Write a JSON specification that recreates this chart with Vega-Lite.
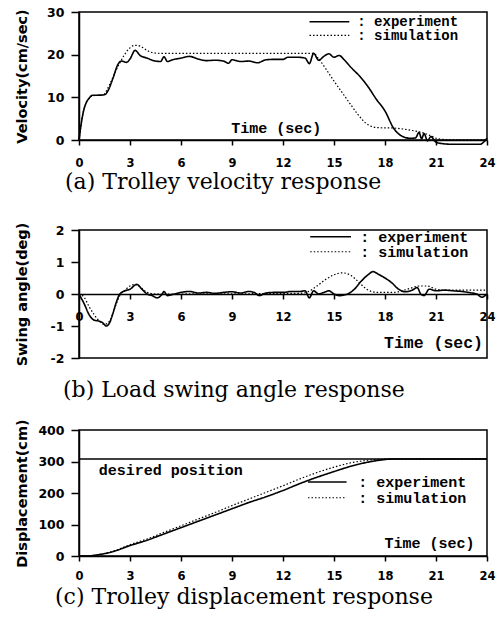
{
  "$schema": "https://vega.github.io/schema/vega-lite/v6.json",
  "background": "white",
  "padding": {"left": 13, "top": 5, "right": 5, "bottom": 5},
  "spacing": 16,
  "config": {
    "view": {"stroke": "black", "strokeWidth": 1.5},
    "axis": {
      "grid": false,
      "domainColor": "black",
      "domainWidth": 1.5,
      "tickColor": "black",
      "tickWidth": 1.5,
      "labelColor": "black",
      "labelFont": "DejaVu Sans",
      "labelFontWeight": "bold",
      "titleColor": "black",
      "titleFont": "DejaVu Sans",
      "titleFontWeight": "bold",
      "titleFontSize": 14.5,
      "labelFlush": false,
      "labelOverlap": false
    },
    "axisX": {"tickSize": 5, "labelPadding": 12, "labelFontSize": 11.5, "title": null},
    "axisY": {"tickSize": 8, "labelPadding": 7, "labelFontSize": 12.5, "titleAngle": -90, "titleBaseline": "middle", "titleAlign": "center", "titleX": -57},
    "title": {"font": "DejaVu Serif", "fontSize": 22, "fontWeight": "normal", "color": "black", "orient": "bottom", "anchor": "start", "frame": "group"}
  },
  "datasets": {
    "vel": [
      {"t": 0, "v": 0, "s": "experiment"}, {"t": 0.1, "v": 3, "s": "experiment"}, {"t": 0.25, "v": 6.5, "s": "experiment"}, {"t": 0.4, "v": 8.5, "s": "experiment"}, {"t": 0.6, "v": 9.8, "s": "experiment"}, {"t": 0.8, "v": 10.5, "s": "experiment"}, {"t": 1.0, "v": 10.5, "s": "experiment"}, {"t": 1.5, "v": 10.6, "s": "experiment"}, {"t": 1.7, "v": 11.5, "s": "experiment"}, {"t": 2.0, "v": 14.5, "s": "experiment"}, {"t": 2.3, "v": 17.8, "s": "experiment"}, {"t": 2.5, "v": 18.5, "s": "experiment"}, {"t": 2.8, "v": 18.2, "s": "experiment"}, {"t": 3.0, "v": 19, "s": "experiment"}, {"t": 3.3, "v": 21, "s": "experiment"}, {"t": 3.6, "v": 19.8, "s": "experiment"}, {"t": 4.0, "v": 19.2, "s": "experiment"}, {"t": 4.5, "v": 18.5, "s": "experiment"}, {"t": 4.8, "v": 18.4, "s": "experiment"}, {"t": 5.0, "v": 19.5, "s": "experiment"}, {"t": 5.2, "v": 18.4, "s": "experiment"}, {"t": 5.5, "v": 18.8, "s": "experiment"}, {"t": 6.0, "v": 19.2, "s": "experiment"}, {"t": 6.5, "v": 19.6, "s": "experiment"}, {"t": 7.0, "v": 19.0, "s": "experiment"}, {"t": 7.5, "v": 18.6, "s": "experiment"}, {"t": 8.0, "v": 18.7, "s": "experiment"}, {"t": 8.5, "v": 18.5, "s": "experiment"}, {"t": 8.8, "v": 18.0, "s": "experiment"}, {"t": 9.0, "v": 18.8, "s": "experiment"}, {"t": 9.5, "v": 18.4, "s": "experiment"}, {"t": 10.0, "v": 18.5, "s": "experiment"}, {"t": 10.5, "v": 18.1, "s": "experiment"}, {"t": 11.0, "v": 18.8, "s": "experiment"}, {"t": 11.5, "v": 18.9, "s": "experiment"}, {"t": 12.0, "v": 18.9, "s": "experiment"}, {"t": 12.3, "v": 19.4, "s": "experiment"}, {"t": 12.8, "v": 19.4, "s": "experiment"}, {"t": 13.3, "v": 19.2, "s": "experiment"}, {"t": 13.55, "v": 17.9, "s": "experiment"}, {"t": 13.8, "v": 20.3, "s": "experiment"}, {"t": 14.1, "v": 18.7, "s": "experiment"}, {"t": 14.4, "v": 19.6, "s": "experiment"}, {"t": 14.7, "v": 20.2, "s": "experiment"}, {"t": 15.0, "v": 19.4, "s": "experiment"}, {"t": 15.3, "v": 19.8, "s": "experiment"}, {"t": 15.6, "v": 18.8, "s": "experiment"}, {"t": 16.0, "v": 17.0, "s": "experiment"}, {"t": 16.5, "v": 15.0, "s": "experiment"}, {"t": 17.0, "v": 12.5, "s": "experiment"}, {"t": 17.5, "v": 9.5, "s": "experiment"}, {"t": 18.0, "v": 6.8, "s": "experiment"}, {"t": 18.5, "v": 2.8, "s": "experiment"}, {"t": 19.0, "v": 0.9, "s": "experiment"}, {"t": 19.5, "v": 0.4, "s": "experiment"}, {"t": 19.8, "v": 0.5, "s": "experiment"}, {"t": 20.0, "v": 1.8, "s": "experiment"}, {"t": 20.15, "v": 0.3, "s": "experiment"}, {"t": 20.3, "v": 1.5, "s": "experiment"}, {"t": 20.5, "v": -0.2, "s": "experiment"}, {"t": 20.7, "v": 0.8, "s": "experiment"}, {"t": 21.0, "v": -0.5, "s": "experiment"}, {"t": 21.5, "v": -0.9, "s": "experiment"}, {"t": 22.0, "v": -1.0, "s": "experiment"}, {"t": 23.0, "v": -1.0, "s": "experiment"}, {"t": 23.6, "v": -1.0, "s": "experiment"}, {"t": 23.8, "v": -0.5, "s": "experiment"}, {"t": 24.0, "v": 0.4, "s": "experiment"},
      {"t": 0, "v": 0, "s": "simulation"}, {"t": 0.1, "v": 3, "s": "simulation"}, {"t": 0.25, "v": 6.5, "s": "simulation"}, {"t": 0.4, "v": 8.5, "s": "simulation"}, {"t": 0.6, "v": 9.8, "s": "simulation"}, {"t": 0.8, "v": 10.4, "s": "simulation"}, {"t": 1.4, "v": 10.5, "s": "simulation"}, {"t": 1.8, "v": 13, "s": "simulation"}, {"t": 2.2, "v": 16.5, "s": "simulation"}, {"t": 2.6, "v": 19.5, "s": "simulation"}, {"t": 3.0, "v": 21.6, "s": "simulation"}, {"t": 3.3, "v": 22.2, "s": "simulation"}, {"t": 3.6, "v": 22.0, "s": "simulation"}, {"t": 4.0, "v": 21.0, "s": "simulation"}, {"t": 4.4, "v": 20.4, "s": "simulation"}, {"t": 5.0, "v": 20.3, "s": "simulation"}, {"t": 13.8, "v": 20.3, "s": "simulation"}, {"t": 14.1, "v": 19.0, "s": "simulation"}, {"t": 14.5, "v": 16.8, "s": "simulation"}, {"t": 15.0, "v": 13.8, "s": "simulation"}, {"t": 15.5, "v": 11.0, "s": "simulation"}, {"t": 16.0, "v": 8.2, "s": "simulation"}, {"t": 16.4, "v": 6.0, "s": "simulation"}, {"t": 16.8, "v": 4.2, "s": "simulation"}, {"t": 17.2, "v": 3.2, "s": "simulation"}, {"t": 17.6, "v": 2.9, "s": "simulation"}, {"t": 18.5, "v": 2.8, "s": "simulation"}, {"t": 19.5, "v": 2.3, "s": "simulation"}, {"t": 20.3, "v": 1.6, "s": "simulation"}, {"t": 20.8, "v": 0.8, "s": "simulation"}, {"t": 21.1, "v": 0.3, "s": "simulation"}, {"t": 22.0, "v": 0.05, "s": "simulation"}, {"t": 24.0, "v": 0.05, "s": "simulation"}
    ],
    "ang": [
      {"t": 0, "v": 0, "s": "experiment"}, {"t": 0.3, "v": -0.3, "s": "experiment"}, {"t": 0.6, "v": -0.65, "s": "experiment"}, {"t": 0.9, "v": -0.82, "s": "experiment"}, {"t": 1.2, "v": -0.85, "s": "experiment"}, {"t": 1.4, "v": -0.9, "s": "experiment"}, {"t": 1.6, "v": -1.0, "s": "experiment"}, {"t": 1.8, "v": -0.9, "s": "experiment"}, {"t": 2.0, "v": -0.6, "s": "experiment"}, {"t": 2.2, "v": -0.25, "s": "experiment"}, {"t": 2.4, "v": 0.0, "s": "experiment"}, {"t": 2.7, "v": 0.1, "s": "experiment"}, {"t": 3.0, "v": 0.15, "s": "experiment"}, {"t": 3.4, "v": 0.3, "s": "experiment"}, {"t": 3.7, "v": 0.15, "s": "experiment"}, {"t": 4.0, "v": 0.0, "s": "experiment"}, {"t": 4.3, "v": -0.05, "s": "experiment"}, {"t": 4.6, "v": -0.12, "s": "experiment"}, {"t": 4.9, "v": 0.0, "s": "experiment"}, {"t": 5.0, "v": 0.08, "s": "experiment"}, {"t": 5.2, "v": -0.05, "s": "experiment"}, {"t": 5.6, "v": 0.0, "s": "experiment"}, {"t": 6.0, "v": 0.05, "s": "experiment"}, {"t": 6.5, "v": 0.08, "s": "experiment"}, {"t": 7.0, "v": 0.03, "s": "experiment"}, {"t": 7.5, "v": 0.05, "s": "experiment"}, {"t": 8.0, "v": 0.02, "s": "experiment"}, {"t": 8.5, "v": 0.05, "s": "experiment"}, {"t": 9.0, "v": 0.07, "s": "experiment"}, {"t": 9.5, "v": 0.03, "s": "experiment"}, {"t": 10.0, "v": 0.08, "s": "experiment"}, {"t": 10.3, "v": 0.05, "s": "experiment"}, {"t": 10.6, "v": -0.05, "s": "experiment"}, {"t": 11.0, "v": 0.03, "s": "experiment"}, {"t": 11.5, "v": 0.05, "s": "experiment"}, {"t": 12.0, "v": 0.05, "s": "experiment"}, {"t": 12.5, "v": 0.08, "s": "experiment"}, {"t": 13.0, "v": 0.08, "s": "experiment"}, {"t": 13.3, "v": 0.1, "s": "experiment"}, {"t": 13.55, "v": -0.12, "s": "experiment"}, {"t": 13.8, "v": 0.1, "s": "experiment"}, {"t": 14.1, "v": 0.0, "s": "experiment"}, {"t": 14.4, "v": 0.05, "s": "experiment"}, {"t": 14.7, "v": 0.1, "s": "experiment"}, {"t": 15.0, "v": 0.0, "s": "experiment"}, {"t": 15.3, "v": -0.05, "s": "experiment"}, {"t": 15.8, "v": 0.0, "s": "experiment"}, {"t": 16.2, "v": 0.15, "s": "experiment"}, {"t": 16.6, "v": 0.4, "s": "experiment"}, {"t": 17.0, "v": 0.6, "s": "experiment"}, {"t": 17.3, "v": 0.7, "s": "experiment"}, {"t": 17.6, "v": 0.62, "s": "experiment"}, {"t": 18.0, "v": 0.5, "s": "experiment"}, {"t": 18.4, "v": 0.35, "s": "experiment"}, {"t": 18.8, "v": 0.15, "s": "experiment"}, {"t": 19.2, "v": 0.07, "s": "experiment"}, {"t": 19.6, "v": 0.12, "s": "experiment"}, {"t": 19.9, "v": 0.2, "s": "experiment"}, {"t": 20.1, "v": 0.0, "s": "experiment"}, {"t": 20.3, "v": -0.05, "s": "experiment"}, {"t": 20.6, "v": 0.15, "s": "experiment"}, {"t": 21.0, "v": 0.1, "s": "experiment"}, {"t": 21.5, "v": 0.12, "s": "experiment"}, {"t": 22.0, "v": 0.1, "s": "experiment"}, {"t": 22.5, "v": 0.08, "s": "experiment"}, {"t": 23.0, "v": 0.04, "s": "experiment"}, {"t": 23.4, "v": 0.0, "s": "experiment"}, {"t": 23.7, "v": -0.1, "s": "experiment"}, {"t": 24.0, "v": 0.0, "s": "experiment"},
      {"t": 0, "v": 0, "s": "simulation"}, {"t": 0.3, "v": -0.1, "s": "simulation"}, {"t": 0.6, "v": -0.4, "s": "simulation"}, {"t": 0.9, "v": -0.65, "s": "simulation"}, {"t": 1.2, "v": -0.85, "s": "simulation"}, {"t": 1.5, "v": -0.95, "s": "simulation"}, {"t": 1.8, "v": -0.85, "s": "simulation"}, {"t": 2.0, "v": -0.6, "s": "simulation"}, {"t": 2.2, "v": -0.3, "s": "simulation"}, {"t": 2.4, "v": -0.05, "s": "simulation"}, {"t": 2.7, "v": 0.12, "s": "simulation"}, {"t": 3.0, "v": 0.25, "s": "simulation"}, {"t": 3.3, "v": 0.3, "s": "simulation"}, {"t": 3.6, "v": 0.22, "s": "simulation"}, {"t": 4.0, "v": 0.05, "s": "simulation"}, {"t": 4.5, "v": 0.0, "s": "simulation"}, {"t": 13.0, "v": 0.02, "s": "simulation"}, {"t": 13.5, "v": 0.08, "s": "simulation"}, {"t": 14.0, "v": 0.25, "s": "simulation"}, {"t": 14.5, "v": 0.45, "s": "simulation"}, {"t": 15.0, "v": 0.6, "s": "simulation"}, {"t": 15.5, "v": 0.66, "s": "simulation"}, {"t": 16.0, "v": 0.58, "s": "simulation"}, {"t": 16.4, "v": 0.4, "s": "simulation"}, {"t": 16.8, "v": 0.2, "s": "simulation"}, {"t": 17.2, "v": 0.08, "s": "simulation"}, {"t": 17.6, "v": 0.05, "s": "simulation"}, {"t": 18.5, "v": 0.05, "s": "simulation"}, {"t": 19.0, "v": 0.1, "s": "simulation"}, {"t": 19.5, "v": 0.18, "s": "simulation"}, {"t": 20.0, "v": 0.25, "s": "simulation"}, {"t": 20.5, "v": 0.25, "s": "simulation"}, {"t": 21.0, "v": 0.15, "s": "simulation"}, {"t": 21.5, "v": 0.12, "s": "simulation"}, {"t": 24.0, "v": 0.12, "s": "simulation"}
    ],
    "disp": [
      {"t": 0, "v": 0, "s": "experiment"}, {"t": 0.5, "v": 0, "s": "experiment"}, {"t": 1.0, "v": 3, "s": "experiment"}, {"t": 2.0, "v": 14, "s": "experiment"}, {"t": 3.0, "v": 33, "s": "experiment"}, {"t": 4.0, "v": 50, "s": "experiment"}, {"t": 5.0, "v": 70, "s": "experiment"}, {"t": 6.0, "v": 90, "s": "experiment"}, {"t": 7.0, "v": 110, "s": "experiment"}, {"t": 8.0, "v": 130, "s": "experiment"}, {"t": 9.0, "v": 150, "s": "experiment"}, {"t": 10.0, "v": 170, "s": "experiment"}, {"t": 11.0, "v": 188, "s": "experiment"}, {"t": 12.0, "v": 208, "s": "experiment"}, {"t": 13.0, "v": 230, "s": "experiment"}, {"t": 14.0, "v": 250, "s": "experiment"}, {"t": 15.0, "v": 268, "s": "experiment"}, {"t": 16.0, "v": 285, "s": "experiment"}, {"t": 17.0, "v": 298, "s": "experiment"}, {"t": 17.8, "v": 305, "s": "experiment"}, {"t": 18.5, "v": 308, "s": "experiment"}, {"t": 24.0, "v": 308, "s": "experiment"},
      {"t": 0, "v": 0, "s": "simulation"}, {"t": 0.5, "v": 0, "s": "simulation"}, {"t": 1.0, "v": 3, "s": "simulation"}, {"t": 2.0, "v": 15, "s": "simulation"}, {"t": 3.0, "v": 36, "s": "simulation"}, {"t": 4.0, "v": 54, "s": "simulation"}, {"t": 5.0, "v": 75, "s": "simulation"}, {"t": 6.0, "v": 96, "s": "simulation"}, {"t": 7.0, "v": 117, "s": "simulation"}, {"t": 8.0, "v": 138, "s": "simulation"}, {"t": 9.0, "v": 160, "s": "simulation"}, {"t": 10.0, "v": 181, "s": "simulation"}, {"t": 11.0, "v": 202, "s": "simulation"}, {"t": 12.0, "v": 223, "s": "simulation"}, {"t": 13.0, "v": 245, "s": "simulation"}, {"t": 14.0, "v": 265, "s": "simulation"}, {"t": 15.0, "v": 282, "s": "simulation"}, {"t": 16.0, "v": 296, "s": "simulation"}, {"t": 17.0, "v": 304, "s": "simulation"}, {"t": 17.8, "v": 307, "s": "simulation"}, {"t": 18.5, "v": 308, "s": "simulation"}, {"t": 24.0, "v": 308, "s": "simulation"}
    ]
  },
  "vconcat": [
    {
      "width": 408, "height": 128,
      "title": {"text": ["(a)  Trolley velocity response", " "], "dx": -14, "offset": 3, "lineHeight": 11},
      "encoding": {
        "x": {"field": "t", "type": "quantitative", "scale": {"domain": [0, 24], "nice": false}, "axis": {"values": [0, 3, 6, 9, 12, 15, 18, 21, 24]}},
        "y": {"field": "v", "type": "quantitative", "scale": {"domain": [0, 30], "nice": false}, "axis": {"values": [0, 10, 20, 30], "title": "Velocity(cm/sec)", "titleY": 64}}
      },
      "layer": [
        {
          "data": {"name": "vel"},
          "mark": {"type": "line", "color": "black", "interpolate": "monotone"},
          "encoding": {
            "detail": {"field": "s"},
            "strokeDash": {"field": "s", "type": "nominal", "scale": {"domain": ["experiment", "simulation"], "range": [[1, 0], [1.5, 2]]}, "legend": null},
            "strokeWidth": {"field": "s", "type": "nominal", "scale": {"domain": ["experiment", "simulation"], "range": [1.6, 1.2]}, "legend": null}
          }
        },
        {
          "data": {"values": [{"t": 13.56, "t2": 15.9, "v": 27.7, "s": "experiment"}, {"t": 13.56, "t2": 15.9, "v": 24.5, "s": "simulation"}]},
          "mark": {"type": "rule", "color": "black"},
          "encoding": {
            "x2": {"field": "t2"},
            "strokeDash": {"field": "s", "type": "nominal", "scale": {"domain": ["experiment", "simulation"], "range": [[1, 0], [1.5, 2]]}, "legend": null},
            "strokeWidth": {"field": "s", "type": "nominal", "scale": {"domain": ["experiment", "simulation"], "range": [1.6, 1.2]}, "legend": null}
          }
        },
        {
          "data": {"values": [{"t": 16.37, "v": 27.7, "label": ": experiment"}, {"t": 16.37, "v": 24.4, "label": ": simulation"}]},
          "mark": {"type": "text", "align": "left", "baseline": "middle", "font": "Liberation Mono", "fontWeight": "bold", "fontSize": 14, "color": "black"},
          "encoding": {"text": {"field": "label"}}
        },
        {
          "data": {"values": [{"t": 8.96, "v": 2.9, "label": "Time (sec)"}]},
          "mark": {"type": "text", "align": "left", "baseline": "middle", "font": "Liberation Mono", "fontWeight": "bold", "fontSize": 15, "color": "black"},
          "encoding": {"text": {"field": "label"}}
        }
      ]
    },
    {
      "width": 408, "height": 128,
      "title": {"text": "(b)  Load swing angle response", "dx": -16, "offset": 14},
      "encoding": {
        "x": {"field": "t", "type": "quantitative", "scale": {"domain": [0, 24], "nice": false}, "axis": {"values": [0, 3, 6, 9, 12, 15, 18, 21, 24], "offset": -64}},
        "y": {"field": "v", "type": "quantitative", "scale": {"domain": [-2, 2], "nice": false}, "axis": {"values": [-2, -1, 0, 1, 2], "title": "Swing angle(deg)", "titleY": 64, "labelExpr": "replace(datum.label, '−', '-')"}}
      },
      "layer": [
        {
          "data": {"name": "ang"},
          "mark": {"type": "line", "color": "black", "interpolate": "monotone"},
          "encoding": {
            "detail": {"field": "s"},
            "strokeDash": {"field": "s", "type": "nominal", "scale": {"domain": ["experiment", "simulation"], "range": [[1, 0], [1.5, 2]]}, "legend": null},
            "strokeWidth": {"field": "s", "type": "nominal", "scale": {"domain": ["experiment", "simulation"], "range": [1.6, 1.2]}, "legend": null}
          }
        },
        {
          "data": {"values": [{"t": 13.6, "t2": 16.0, "v": 1.79, "s": "experiment"}, {"t": 13.6, "t2": 16.0, "v": 1.32, "s": "simulation"}]},
          "mark": {"type": "rule", "color": "black"},
          "encoding": {
            "x2": {"field": "t2"},
            "strokeDash": {"field": "s", "type": "nominal", "scale": {"domain": ["experiment", "simulation"], "range": [[1, 0], [1.5, 2]]}, "legend": null},
            "strokeWidth": {"field": "s", "type": "nominal", "scale": {"domain": ["experiment", "simulation"], "range": [1.6, 1.2]}, "legend": null}
          }
        },
        {
          "data": {"values": [{"t": 16.55, "v": 1.79, "label": ": experiment"}, {"t": 16.55, "v": 1.32, "label": ": simulation"}]},
          "mark": {"type": "text", "align": "left", "baseline": "middle", "font": "Liberation Mono", "fontWeight": "bold", "fontSize": 15, "color": "black"},
          "encoding": {"text": {"field": "label"}}
        },
        {
          "data": {"values": [{"t": 17.94, "v": -1.54, "label": "Time (sec)"}]},
          "mark": {"type": "text", "align": "left", "baseline": "middle", "font": "Liberation Mono", "fontWeight": "bold", "fontSize": 16.5, "color": "black"},
          "encoding": {"text": {"field": "label"}}
        }
      ]
    },
    {
      "width": 408, "height": 126,
      "title": {"text": "(c)  Trolley displacement response", "dx": -24, "offset": 5},
      "encoding": {
        "x": {"field": "t", "type": "quantitative", "scale": {"domain": [0, 24], "nice": false}, "axis": {"values": [0, 3, 6, 9, 12, 15, 18, 21, 24], "labelPadding": 9}},
        "y": {"field": "v", "type": "quantitative", "scale": {"domain": [0, 400], "nice": false}, "axis": {"values": [0, 100, 200, 300, 400], "title": "Displacement(cm)", "titleY": 63}}
      },
      "layer": [
        {
          "data": {"values": [{"t": 0, "t2": 24, "v": 308}]},
          "mark": {"type": "rule", "color": "black", "strokeWidth": 1.5},
          "encoding": {"x2": {"field": "t2"}}
        },
        {
          "data": {"name": "disp"},
          "mark": {"type": "line", "color": "black", "interpolate": "monotone"},
          "encoding": {
            "detail": {"field": "s"},
            "strokeDash": {"field": "s", "type": "nominal", "scale": {"domain": ["experiment", "simulation"], "range": [[1, 0], [1.5, 2]]}, "legend": null},
            "strokeWidth": {"field": "s", "type": "nominal", "scale": {"domain": ["experiment", "simulation"], "range": [1.6, 1.2]}, "legend": null}
          }
        },
        {
          "data": {"values": [{"t": 13.47, "t2": 15.74, "v": 235, "s": "experiment"}, {"t": 13.47, "t2": 15.74, "v": 185, "s": "simulation"}]},
          "mark": {"type": "rule", "color": "black"},
          "encoding": {
            "x2": {"field": "t2"},
            "strokeDash": {"field": "s", "type": "nominal", "scale": {"domain": ["experiment", "simulation"], "range": [[1, 0], [1.5, 2]]}, "legend": null},
            "strokeWidth": {"field": "s", "type": "nominal", "scale": {"domain": ["experiment", "simulation"], "range": [1.6, 1.2]}, "legend": null}
          }
        },
        {
          "data": {"values": [{"t": 16.43, "v": 235, "label": ": experiment"}, {"t": 16.43, "v": 185, "label": ": simulation"}, {"t": 17.97, "v": 42, "label": "Time (sec)"}, {"t": 1.16, "v": 273, "label": "desired position"}]},
          "mark": {"type": "text", "align": "left", "baseline": "middle", "font": "Liberation Mono", "fontWeight": "bold", "fontSize": 15, "color": "black"},
          "encoding": {"text": {"field": "label"}}
        }
      ]
    }
  ]
}
